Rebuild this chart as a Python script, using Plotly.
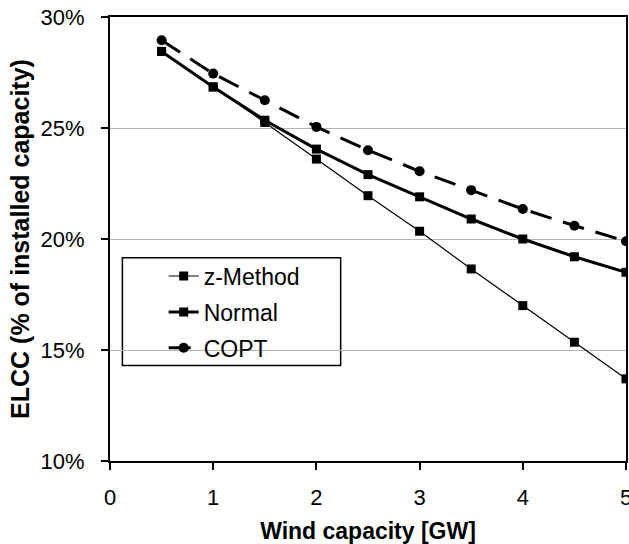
import plotly.graph_objects as go

wind_gw = [0.5, 1.0, 1.5, 2.0, 2.5, 3.0, 3.5, 4.0, 4.5, 5.0]
z_method = [28.45, 26.85, 25.25, 23.6, 21.95, 20.35, 18.65, 17.0, 15.35, 13.7]
normal = [28.45, 26.85, 25.35, 24.05, 22.9, 21.9, 20.9, 20.0, 19.2, 18.5]
copt = [28.95, 27.45, 26.25, 25.05, 24.0, 23.05, 22.2, 21.35, 20.6, 19.9]

x_ticks = [0, 1, 2, 3, 4, 5]
y_ticks = [10, 15, 20, 25, 30]
y_tick_labels = ["10%", "15%", "20%", "25%", "30%"]

FONT = "Liberation Sans, Arial, sans-serif"

fig = go.Figure()
fig.add_trace(go.Scatter(
    x=wind_gw, y=z_method, name="z-Method", mode="lines+markers",
    line=dict(color="black", width=1.2),
    marker=dict(symbol="square", size=9, color="black"),
    legendgroup="a"))
fig.add_trace(go.Scatter(
    x=wind_gw, y=normal, name="Normal", mode="lines+markers",
    line=dict(color="black", width=3),
    marker=dict(symbol="square", size=9, color="black"),
    legendgroup="b"))
fig.add_trace(go.Scatter(
    x=wind_gw, y=copt, name="COPT", mode="lines+markers",
    line=dict(color="black", width=3, dash="22px,12px"),
    marker=dict(symbol="circle", size=10, color="black"),
    legendgroup="c"))

fig.update_layout(
    width=629, height=544,
    margin=dict(l=110, r=3, t=17, b=83),
    paper_bgcolor="white", plot_bgcolor="white",
    font=dict(family=FONT, size=22, color="black"),
    showlegend=True,
    legend=dict(
        x=0.104, y=0.465, xanchor="left", yanchor="top",
        bgcolor="rgba(0,0,0,0)", borderwidth=0,
        font=dict(family=FONT, size=23, color="black"),
        tracegroupgap=3, itemwidth=30,
    ),
    shapes=[dict(type="rect", xref="paper", yref="paper",
                 x0=0.024, x1=0.447, y0=0.215, y1=0.458,
                 line=dict(color="black", width=1.5), fillcolor="white", layer="below")],
)

fig.update_xaxes(
    range=[0, 5], tickvals=x_ticks, ticks="outside", ticklen=7, tickwidth=2,
    tickcolor="black", showline=True, linecolor="black", linewidth=2, mirror=True,
    showgrid=False, zeroline=False, automargin=False, ticklabeloverflow="allow",
    ticklabelstandoff=9,
    tickfont=dict(family=FONT, size=22, color="black"),
    title=dict(text="<b>Wind capacity [GW]</b>", standoff=15,
               font=dict(family=FONT, size=23, color="black")),
)
fig.update_yaxes(
    range=[10, 30], tickvals=y_ticks, ticktext=y_tick_labels, ticks="outside", ticklen=7, tickwidth=2,
    tickcolor="black", showline=True, linecolor="black", linewidth=2, mirror=True,
    showgrid=True, gridcolor="#b4b4b4", gridwidth=1, zeroline=False, automargin=False,
    ticklabelstandoff=12, ticklabeloverflow="allow",
    tickfont=dict(family=FONT, size=22, color="black"),
    title=dict(text="<b>ELCC (% of installed capacity)</b>", standoff=4,
               font=dict(family=FONT, size=25, color="black")),
)

fig.write_html("out.html")
